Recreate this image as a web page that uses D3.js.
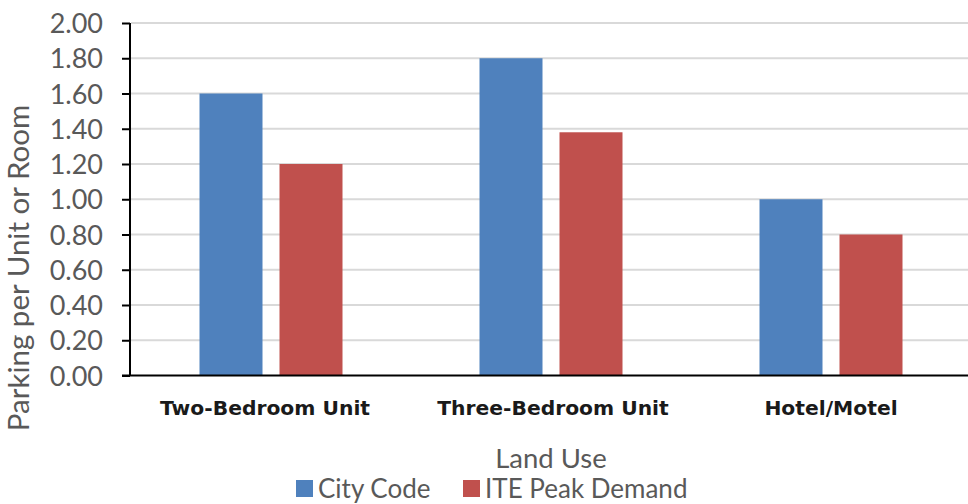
<!DOCTYPE html>
<html><head><meta charset="utf-8">
<script src="https://cdn.jsdelivr.net/npm/d3@7"></script>
<style>body{margin:0;background:#fff;}svg{display:block;}</style>
</head><body>
<svg id="c" width="968" height="504"></svg>
<script>
const categories = ["Two-Bedroom Unit", "Three-Bedroom Unit", "Hotel/Motel"];
const seriesNames = ["City Code", "ITE Peak Demand"];
const cityCode = [1.60, 1.80, 1.00];
const itePeak = [1.20, 1.38, 0.80];
const yTicks = [0, 0.2, 0.4, 0.6, 0.8, 1.0, 1.2, 1.4, 1.6, 1.8, 2.0];
const colors = ["#4F81BD", "#C0504D"];

const svg = d3.select("#c");
const x0 = 131, x1 = 971, yTop = 23, yBot = 375.5;
const x = d3.scaleBand().domain(categories).range([x0, x1]);
const xs = d3.scaleBand().domain(seriesNames).range([68.5, 211.5]).paddingInner(0.2125);
const y = d3.scaleLinear().domain([0, 2]).range([yBot, yTop]);

// gridlines
svg.append("g").selectAll("line").data(yTicks.filter(d => d > 0)).join("line")
  .attr("x1", x0).attr("x2", 968).attr("y1", d => y(d)).attr("y2", d => y(d))
  .attr("stroke", "#d9d9d9").attr("stroke-width", 2);

// bars
const data = categories.map((c, i) => ({c, vals: [cityCode[i], itePeak[i]]}));
const g = svg.append("g").selectAll("g").data(data).join("g")
  .attr("transform", d => `translate(${x(d.c)},0)`);
g.selectAll("rect").data(d => d.vals.map((v, j) => ({v, s: seriesNames[j], j}))).join("rect")
  .attr("x", d => xs(d.s)).attr("width", xs.bandwidth())
  .attr("y", d => y(d.v)).attr("height", d => y(0) - y(d.v))
  .attr("fill", d => colors[d.j]);

// y axis
const yAxis = d3.axisLeft(y).tickValues(yTicks).tickFormat(d3.format(".2f")).tickSize(8).tickPadding(19);
const ya = svg.append("g").attr("transform", `translate(${x0 - 1},0)`).call(yAxis);
ya.select(".domain").attr("stroke", "#000").attr("stroke-width", 2).attr("d", `M0,${yTop}V${yBot}`);
ya.selectAll(".tick line").attr("stroke", "#000").attr("stroke-width", 2);
ya.selectAll(".tick text").attr("fill", "#595959").style("font-family", "Lato, sans-serif").style("font-size", "27px").attr("dy", "0.36em");

// x axis
svg.append("line").attr("x1", x0 - 9).attr("x2", 968).attr("y1", yBot).attr("y2", yBot)
  .attr("stroke", "#000").attr("stroke-width", 2);
const xAxis = d3.axisBottom(x).tickSize(0).tickPadding(0);
const xa = svg.append("g").attr("transform", `translate(0,${yBot})`).call(xAxis);
xa.select(".domain").remove();
xa.selectAll(".tick text").attr("y", 39).attr("dy", 0).attr("fill", "#1a1a1a")
  .style("font-family", "'DejaVu Sans', sans-serif").style("font-weight", "bold").style("font-size", "20.3px")
  .attr("dx", (d, i) => i === 0 ? -6 : (i === 1 ? 2 : 0));

// axis titles
svg.append("text").attr("transform", "translate(29,268) rotate(-90)").attr("text-anchor", "middle")
  .attr("fill", "#595959").style("font-family", "Lato, sans-serif").style("font-size", "29.5px")
  .text("Parking per Unit or Room");
svg.append("text").attr("x", 551).attr("y", 468).attr("text-anchor", "middle")
  .attr("fill", "#595959").style("font-family", "Lato, sans-serif").style("font-size", "27.5px")
  .text("Land Use");

// legend
const legendX = [296, 463];
const lg = svg.append("g").selectAll("g").data(seriesNames).join("g")
  .attr("transform", (d, i) => `translate(${legendX[i]},480)`);
lg.append("rect").attr("width", 17).attr("height", 17).attr("fill", (d, i) => colors[i]);
lg.append("text").attr("x", 22).attr("y", 17.5).attr("fill", "#595959")
  .style("font-family", "Lato, sans-serif").style("font-size", "26px").text(d => d);
</script>
</body></html>
